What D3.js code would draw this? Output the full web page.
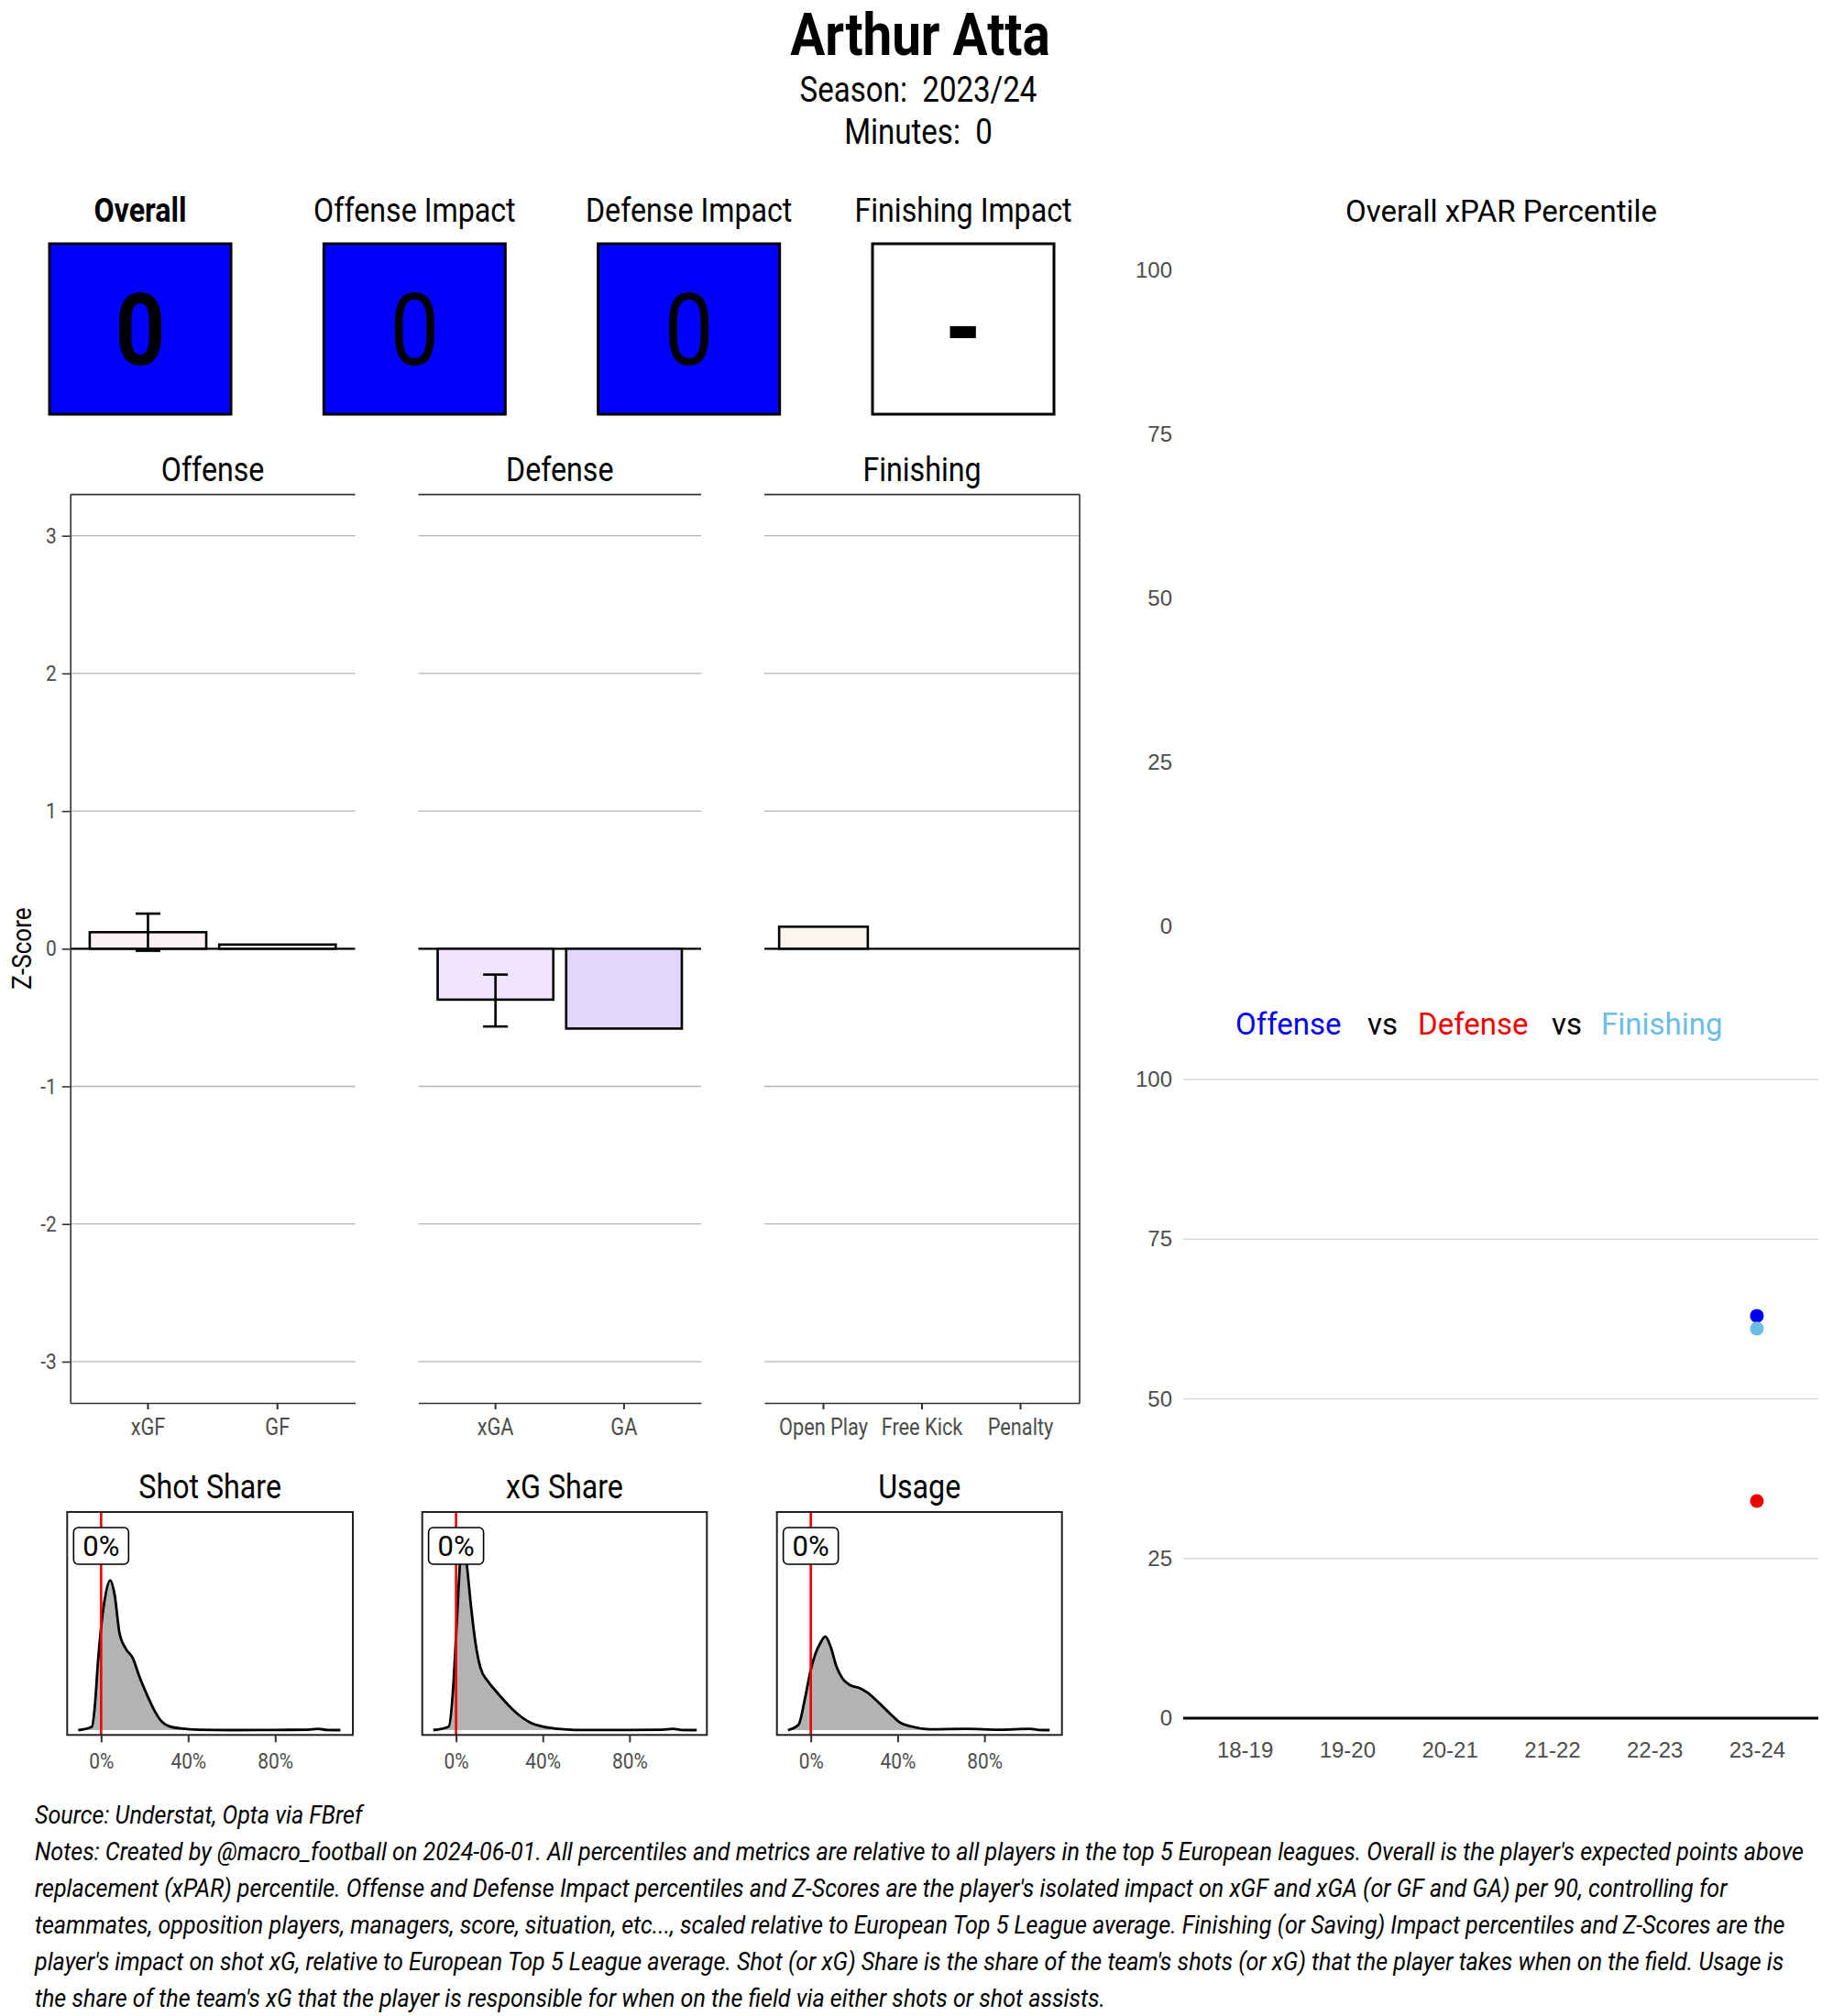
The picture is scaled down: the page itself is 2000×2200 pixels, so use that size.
<!DOCTYPE html>
<html lang="en">
<head>
<meta charset="UTF-8">
<title>Arthur Atta</title>
<script src="https://cdn.jsdelivr.net/npm/d3@7"></script>
<style>
  body { margin: 0; background: #fff; }
  text { white-space: pre; }
</style>
</head>
<body>
<div id="container"></div>
<script>
// ---- data ----
var playerName = "Arthur Atta";
var seasonLabel = "Season:  2023/24";
var minutesLabel = "Minutes:  0";

var headerTitles = ["Overall", "Offense Impact", "Defense Impact", "Finishing Impact"];
var headerValues = ["0", "0", "0", "-"];

var offenseCats = ["xGF", "GF"];
var offenseZ = [0.12, 0.03];
var offenseErr = [[-0.015, 0.255], null];

var defenseCats = ["xGA", "GA"];
var defenseZ = [-0.37, -0.58];
var defenseErr = [[-0.565, -0.188], null];

var finishingCats = ["Open Play", "Free Kick", "Penalty"];
var finishingZ = [0.16, 0, 0];
var finishingErr = [null, null, null];

var zTicks = [-3, -2, -1, 0, 1, 2, 3];

var seasons = ["18-19", "19-20", "20-21", "21-22", "22-23", "23-24"];
var overallPct = [null, null, null, null, null, null];
var offensePct = [null, null, null, null, null, 63];
var defensePct = [null, null, null, null, null, 34];
var finishingPct = [null, null, null, null, null, 61];
var pctTicks = [0, 25, 50, 75, 100];

// density curves: [share %, density]
var shotShare = [[-10.5,0],[-4.2,0.2],[-2.8,1.5],[-1.4,4.0],[0,5.9],[1.4,7.3],[4.2,8.6],[6.3,7.7],[8.4,5.6],[11.2,4.7],[14.7,4.1],[17.5,3.1],[21,2.05],[24.6,1.1],[28,0.47],[31.6,0.2],[36.5,0.1],[45,0.02],[60,0],[80,0.01],[95,0.02],[99.6,0.07],[104,0.01],[110,0]];
var xgShare = [[-10.5,0],[-3.4,0.2],[-1.4,2.3],[0,5.4],[1.4,8.7],[2.4,10.8],[3.3,11.3],[4.9,9.6],[7,7.0],[9.1,4.9],[11.2,3.6],[14.7,2.8],[18.3,2.25],[21.8,1.75],[26,1.2],[30.2,0.75],[34.4,0.42],[40,0.2],[47,0.07],[55,0.01],[80,0.01],[95,0.02],[100,0.07],[104,0.01],[111,0]];
var usage = [[-10.5,0],[-5.6,0.32],[-2.8,1.74],[0,3.47],[2.1,4.37],[4.2,4.95],[6.7,5.37],[9.1,4.8],[11.9,3.63],[14.7,2.95],[18.2,2.58],[22.4,2.42],[26,2.16],[29.5,1.79],[33,1.37],[36.5,0.95],[40.7,0.47],[46.3,0.21],[54.7,0.05],[71.6,0.07],[87,0.02],[101,0.07],[105,0.01],[110,0]];
var densityTitles = ["Shot Share", "xG Share", "Usage"];
var playerShares = [0, 0, 0];
var shareTicks = [0, 40, 80];

var footerLines = [
  "Source: Understat, Opta via FBref",
  "Notes: Created by @macro_football on 2024-06-01. All percentiles and metrics are relative to all players in the top 5 European leagues. Overall is the player's expected points above",
  "replacement (xPAR) percentile. Offense and Defense Impact percentiles and Z-Scores are the player's isolated impact on xGF and xGA (or GF and GA) per 90, controlling for",
  "teammates, opposition players, managers, score, situation, etc..., scaled relative to European Top 5 League average. Finishing (or Saving) Impact percentiles and Z-Scores are the",
  "player's impact on shot xG, relative to European Top 5 League average. Shot (or xG) Share is the share of the team's shots (or xG) that the player takes when on the field. Usage is",
  "the share of the team's xG that the player is responsible for when on the field via either shots or shot assists."
];

// ---- styles ----
var barFills = {"xGF": "#fcf0f2", "GF": "#fefafa", "xGA": "#f0e5fc", "GA": "#e3d6fb",
                "Open Play": "#fdf4ee", "Free Kick": "#ffffff", "Penalty": "#ffffff"};
var seriesColours = {offense: "#0000ee", defense: "#ee0000", finishing: "#6cbde6"};
var SX = 0.87; // horizontal squeeze to imitate a condensed face
var grey = "#4d4d4d";

var width = 2000, height = 2200;
var svg = d3.select("#container").append("svg")
    .attr("width", width).attr("height", height)
    .style("font-family", "Roboto, sans-serif");

function ctext(sel, x, y, str, size, o) {
  o = o || {};
  return sel.append("text")
    .attr("transform", "translate(" + x + "," + y + ")" + (o.rotate ? " rotate(" + o.rotate + ")" : "") + " scale(" + (o.sx || SX) + ",1)")
    .attr("font-size", size)
    .attr("text-anchor", o.anchor || "middle")
    .attr("font-weight", o.weight || 400)
    .attr("font-style", o.italic ? "italic" : "normal")
    .attr("fill", o.fill || "#000")
    .text(str);
}

// ---- title ----
ctext(svg, 1004, 60, playerName, 65, {weight: 700});
ctext(svg, 1002, 111, seasonLabel, 38);
ctext(svg, 1002, 157, minutesLabel, 38);

// ---- header boxes ----
var headX = d3.scalePoint().domain(headerTitles).range([153, 1051]);
headerTitles.forEach(function(t, i) {
  var cx = headX(t);
  ctext(svg, cx, 242, t, 37, {weight: i === 0 ? 700 : 400});
  svg.append("rect")
    .attr("x", cx - 99).attr("y", 266).attr("width", 198).attr("height", 186)
    .attr("fill", headerValues[i] === "-" ? "#ffffff" : "#0000ff")
    .attr("stroke", "#000").attr("stroke-width", 3);
  ctext(svg, cx, headerValues[i] === "-" ? 399 : 398, headerValues[i], headerValues[i] === "-" ? 118 : 110,
    {weight: (i === 0 || headerValues[i] === "-") ? 700 : 400});
});

// ---- z-score panels ----
var zTop = 539.6, zBot = 1531;
var zy = d3.scaleLinear().domain([-3.3, 3.3]).range([zBot, zTop]);
var panels = [
  {title: "Offense", cats: offenseCats, z: offenseZ, err: offenseErr, x0: 76.7, x1: 387.5},
  {title: "Defense", cats: defenseCats, z: defenseZ, err: defenseErr, x0: 456.5, x1: 765},
  {title: "Finishing", cats: finishingCats, z: finishingZ, err: finishingErr, x0: 834, x1: 1178}
];

panels.forEach(function(p, pi) {
  var g = svg.append("g");
  var x = d3.scaleBand().domain(p.cats).range([p.x0, p.x1]).paddingInner(0.1).paddingOuter(0.15);

  // gridlines
  g.selectAll(".grid").data(zTicks.filter(function(d) { return d !== 0; })).enter().append("line")
    .attr("x1", p.x0).attr("x2", p.x1)
    .attr("y1", function(d) { return zy(d); }).attr("y2", function(d) { return zy(d); })
    .attr("stroke", "#b3b3b3").attr("stroke-width", 1.3);

  // zero line
  g.append("line").attr("x1", p.x0).attr("x2", p.x1)
    .attr("y1", zy(0)).attr("y2", zy(0)).attr("stroke", "#000").attr("stroke-width", 2.2);

  // bars
  g.selectAll(".bar").data(p.cats).enter().append("rect")
    .attr("x", function(d) { return x(d); })
    .attr("width", x.bandwidth())
    .attr("y", function(d, i) { return zy(Math.max(0, p.z[i])); })
    .attr("height", function(d, i) { return Math.abs(zy(p.z[i]) - zy(0)); })
    .attr("fill", function(d) { return barFills[d]; })
    .attr("stroke", "#000").attr("stroke-width", 2.6);

  // error bars
  p.cats.forEach(function(c, i) {
    var e = p.err[i];
    if (!e) return;
    var cx = x(c) + x.bandwidth() / 2, hw = 13.5;
    g.append("line").attr("x1", cx).attr("x2", cx).attr("y1", zy(e[0])).attr("y2", zy(e[1]))
      .attr("stroke", "#000").attr("stroke-width", 2.6);
    e.forEach(function(v) {
      g.append("line").attr("x1", cx - hw).attr("x2", cx + hw).attr("y1", zy(v)).attr("y2", zy(v))
        .attr("stroke", "#000").attr("stroke-width", 2.6);
    });
  });

  // frame: top line, outer right side
  g.append("line").attr("x1", p.x0).attr("x2", p.x1).attr("y1", zTop).attr("y2", zTop)
    .attr("stroke", "#333").attr("stroke-width", 1.6);
  if (pi === panels.length - 1) {
    g.append("line").attr("x1", p.x1).attr("x2", p.x1).attr("y1", zTop).attr("y2", zBot)
      .attr("stroke", "#333").attr("stroke-width", 1.6);
  }

  // bottom axis
  var ax = g.append("g").attr("transform", "translate(0," + zBot + ")")
    .call(d3.axisBottom(x).tickSize(7).tickSizeOuter(0).tickPadding(10));
  ax.select(".domain").attr("stroke", "#333").attr("stroke-width", 1.6);
  ax.selectAll(".tick line").attr("stroke", "#333").attr("stroke-width", 2);
  ax.selectAll("text").attr("font-size", 25).attr("fill", grey)
    .attr("font-family", "Roboto").attr("transform", "scale(" + SX + ",1)");

  // left axis on first panel
  if (pi === 0) {
    var ay = g.append("g").attr("transform", "translate(" + p.x0 + ",0)")
      .call(d3.axisLeft(zy).tickValues(zTicks).tickFormat(function(d) { return String(d); })
        .tickSize(9).tickSizeOuter(0).tickPadding(6));
    ay.select(".domain").attr("stroke", "#333").attr("stroke-width", 1.6);
    ay.selectAll(".tick line").attr("stroke", "#333").attr("stroke-width", 1.6);
    ay.selectAll("text").attr("font-size", 24).attr("fill", grey).attr("font-family", "Roboto")
      .attr("x", -15 / SX).attr("transform", "scale(" + SX + ",1)");
  }

  ctext(svg, (p.x0 + p.x1) / 2, 525, p.title, 37);
});
ctext(svg, 34, 1035, "Z-Score", 30, {rotate: -90});

// ---- density panels ----
var densSets = [shotShare, xgShare, usage];
var dPanels = [[73.3, 385], [460.7, 771.3], [847.7, 1158.7]];
var dTop = 1650, dBot = 1893.3;
var dy = d3.scaleLinear().domain([0, 12]).range([1888, 1660]);

densSets.forEach(function(data, i) {
  var x0 = dPanels[i][0], x1 = dPanels[i][1];
  var dx = d3.scaleLinear().domain([-15.6, 115.7]).range([x0, x1]);
  var g = svg.append("g");
  var clipId = "clip" + i;
  svg.append("clipPath").attr("id", clipId).append("rect")
    .attr("x", x0).attr("y", dTop).attr("width", x1 - x0).attr("height", dBot - dTop);
  var inner = g.append("g").attr("clip-path", "url(#" + clipId + ")");

  inner.append("path").datum(data)
    .attr("d", d3.area().x(function(d) { return dx(d[0]); }).y0(dy(0)).y1(function(d) { return dy(d[1]); }).curve(d3.curveMonotoneX))
    .attr("fill", "#b3b3b3");
  inner.append("path").datum(data)
    .attr("d", d3.line().x(function(d) { return dx(d[0]); }).y(function(d) { return dy(d[1]); }).curve(d3.curveMonotoneX))
    .attr("fill", "none").attr("stroke", "#000").attr("stroke-width", 2.8);
  inner.append("line").attr("x1", dx(playerShares[i])).attr("x2", dx(playerShares[i]))
    .attr("y1", dTop).attr("y2", dBot).attr("stroke", "#ee0000").attr("stroke-width", 2.6);

  // value label
  var lx = dx(playerShares[i]);
  g.append("rect").attr("x", lx - 30).attr("y", 1667).attr("width", 60).attr("height", 40)
    .attr("rx", 5).attr("fill", "#fff").attr("stroke", "#000").attr("stroke-width", 1.6);
  g.append("text").attr("x", lx).attr("y", 1698).attr("text-anchor", "middle")
    .attr("font-size", 31).attr("fill", "#000").text(playerShares[i] + "%");

  g.append("rect").attr("x", x0).attr("y", dTop).attr("width", x1 - x0).attr("height", dBot - dTop)
    .attr("fill", "none").attr("stroke", "#222").attr("stroke-width", 2);

  var ax = g.append("g").attr("transform", "translate(0," + dBot + ")")
    .call(d3.axisBottom(dx).tickValues(shareTicks).tickFormat(function(d) { return d + "%"; })
      .tickSize(8).tickPadding(12));
  ax.select(".domain").remove();
  ax.selectAll(".tick line").attr("stroke", "#333").attr("stroke-width", 2);
  ax.selectAll("text").attr("font-size", 24).attr("fill", grey).attr("font-family", "Roboto")
    .attr("transform", "scale(" + SX + ",1)");

  ctext(svg, (x0 + x1) / 2, 1635, densityTitles[i], 37);
});

// ---- right side: percentile charts ----
var rx = d3.scalePoint().domain(seasons).range([1291, 1984]).padding(0.6);
var arial = "'Liberation Sans', Arial, sans-serif";

// upper: overall xPAR percentile (no data plotted)
var yTop = d3.scaleLinear().domain([0, 100]).range([1011, 295]);
svg.append("text").attr("x", 1638).attr("y", 242).attr("text-anchor", "middle")
  .attr("font-size", 33).attr("fill", "#000").text("Overall xPAR Percentile");
var upAx = svg.append("g").attr("transform", "translate(1293,0)")
  .call(d3.axisLeft(yTop).tickValues(pctTicks).tickSize(0).tickPadding(14));
upAx.select(".domain").remove();
upAx.selectAll("text").attr("font-size", 24).attr("fill", grey).attr("font-family", arial);
var overallLine = d3.line().defined(function(d) { return d != null; })
  .x(function(d, i) { return rx(seasons[i]); }).y(function(d) { return yTop(d); });
svg.append("path").datum(overallPct).attr("d", overallLine).attr("fill", "none").attr("stroke", "#000");

// legend-title
var legendWords = [
  {t: "Offense", x: 1348, c: seriesColours.offense},
  {t: "vs", x: 1492, c: "#000"},
  {t: "Defense", x: 1547, c: seriesColours.defense},
  {t: "vs", x: 1693, c: "#000"},
  {t: "Finishing", x: 1747, c: seriesColours.finishing}
];
legendWords.forEach(function(w) {
  svg.append("text").attr("x", w.x).attr("y", 1129).attr("font-size", 33)
    .attr("fill", w.c).text(w.t);
});

// lower: offense / defense / finishing percentiles
var yLow = d3.scaleLinear().domain([0, 100]).range([1875, 1178]);
var lowG = svg.append("g");
lowG.selectAll(".pgrid").data(pctTicks.filter(function(d) { return d > 0; })).enter().append("line")
  .attr("x1", 1291).attr("x2", 1984)
  .attr("y1", function(d) { return yLow(d); }).attr("y2", function(d) { return yLow(d); })
  .attr("stroke", "#d9d9d9").attr("stroke-width", 1.5);
lowG.append("line").attr("x1", 1291).attr("x2", 1984).attr("y1", yLow(0)).attr("y2", yLow(0))
  .attr("stroke", "#000").attr("stroke-width", 3);
var lowAx = lowG.append("g").attr("transform", "translate(1293,0)")
  .call(d3.axisLeft(yLow).tickValues(pctTicks).tickSize(0).tickPadding(14));
lowAx.select(".domain").remove();
lowAx.selectAll("text").attr("font-size", 24).attr("fill", grey).attr("font-family", arial);
var botAx = lowG.append("g").attr("transform", "translate(0," + yLow(0) + ")")
  .call(d3.axisBottom(rx).tickSize(0).tickPadding(26));
botAx.select(".domain").remove();
botAx.selectAll("text").attr("font-size", 24).attr("fill", grey).attr("font-family", arial);

[["offense", offensePct], ["defense", defensePct], ["finishing", finishingPct]].forEach(function(s) {
  lowG.selectAll(".pt-" + s[0]).data(s[1].map(function(v, i) { return {s: seasons[i], v: v}; })
      .filter(function(d) { return d.v != null; }))
    .enter().append("circle")
    .attr("cx", function(d) { return rx(d.s); })
    .attr("cy", function(d) { return yLow(d.v); })
    .attr("r", 7.5)
    .attr("fill", seriesColours[s[0]]);
});

// ---- footer ----
footerLines.forEach(function(l, i) {
  ctext(svg, 38, 1990 + i * 40, l, 27, {anchor: "start", italic: true, sx: 0.93});
});
</script>
</body>
</html>
